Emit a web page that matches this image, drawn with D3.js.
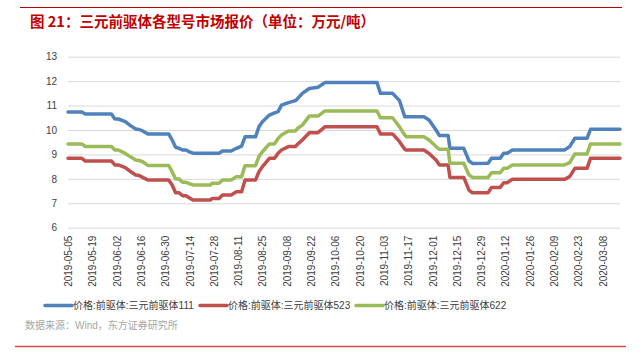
<!DOCTYPE html>
<html><head><meta charset="utf-8">
<script src="https://cdn.jsdelivr.net/npm/d3@7"></script>
<style>
html,body{margin:0;padding:0;background:#fff;}
svg{display:block;font-family:"Liberation Sans","Noto Sans CJK SC",sans-serif;}
</style></head>
<body><svg id="c" width="642" height="354"></svg>
<script>
const title = "图 21：三元前驱体各型号市场报价（单位：万元/吨）";
const source = "数据来源：Wind，东方证券研究所";
const seriesNames = ["价格:前驱体:三元前驱体111","价格:前驱体:三元前驱体523","价格:前驱体:三元前驱体622"];
const seriesColors = ["#4f81bd","#c0504d","#9bbb59"];
const yTicks = [6,7,8,9,10,11,12,13];
const xTickLabels = ["2019-05-05","2019-05-19","2019-06-02","2019-06-16","2019-06-30","2019-07-14","2019-07-28","2019-08-11","2019-08-25","2019-09-08","2019-09-22","2019-10-06","2019-10-20","2019-11-03","2019-11-17","2019-12-01","2019-12-15","2019-12-29","2020-01-12","2020-01-26","2020-02-09","2020-02-23","2020-03-08"];
const dates = ["2019-05-05","2019-05-13","2019-05-15","2019-05-30","2019-06-01","2019-06-03","2019-06-07","2019-06-10","2019-06-13","2019-06-15","2019-06-17","2019-06-20","2019-07-02","2019-07-04","2019-07-06","2019-07-08","2019-07-10","2019-07-12","2019-07-14","2019-07-16","2019-07-26","2019-07-27","2019-07-31","2019-08-02","2019-08-07","2019-08-10","2019-08-13","2019-08-15","2019-08-21","2019-08-23","2019-08-25","2019-08-29","2019-09-01","2019-09-03","2019-09-05","2019-09-09","2019-09-13","2019-09-14","2019-09-17","2019-09-21","2019-09-26","2019-09-30","2019-10-30","2019-11-01","2019-11-08","2019-11-12","2019-11-15","2019-11-16","2019-11-26","2019-11-29","2019-12-03","2019-12-05","2019-12-10","2019-12-11","2019-12-19","2019-12-22","2019-12-24","2020-01-02","2020-01-04","2020-01-09","2020-01-11","2020-01-13","2020-01-16","2020-02-15","2020-02-18","2020-02-21","2020-02-28","2020-03-01","2020-03-18"];
const s111 = [10.74,10.74,10.65,10.65,10.45,10.45,10.34,10.18,10.04,10.02,9.96,9.84,9.84,9.59,9.29,9.25,9.18,9.18,9.10,9.05,9.05,9.05,9.05,9.14,9.14,9.25,9.34,9.72,9.72,10.13,10.34,10.61,10.70,10.75,11.02,11.12,11.20,11.26,11.50,11.70,11.75,11.94,11.94,11.50,11.50,11.20,10.54,10.54,10.54,10.41,10.00,9.77,9.77,9.25,9.25,8.74,8.63,8.64,8.84,8.84,9.05,9.05,9.18,9.18,9.32,9.66,9.66,10.03,10.03];
const s523 = [8.84,8.84,8.73,8.73,8.57,8.57,8.46,8.30,8.16,8.14,8.06,7.95,7.95,7.75,7.43,7.43,7.31,7.31,7.22,7.13,7.13,7.20,7.20,7.34,7.34,7.47,7.47,7.95,7.95,8.29,8.50,8.84,8.84,9.05,9.18,9.32,9.32,9.40,9.59,9.89,9.89,10.13,10.13,9.84,9.84,9.52,9.21,9.18,9.18,9.04,8.77,8.57,8.57,8.06,8.06,7.54,7.43,7.43,7.65,7.65,7.84,7.84,7.98,7.98,8.09,8.43,8.43,8.84,8.84];
const s622 = [9.43,9.43,9.32,9.32,9.18,9.18,9.04,8.90,8.77,8.75,8.70,8.55,8.55,8.29,7.99,7.99,7.86,7.86,7.80,7.75,7.75,7.82,7.82,7.95,7.95,8.09,8.09,8.54,8.54,8.91,9.11,9.43,9.43,9.65,9.79,9.96,9.96,10.05,10.20,10.57,10.57,10.78,10.78,10.50,10.50,10.13,9.79,9.72,9.72,9.59,9.32,9.21,9.21,8.64,8.64,8.16,8.06,8.06,8.25,8.25,8.43,8.43,8.57,8.57,8.66,9.02,9.02,9.43,9.43];
const xStart = "2019-05-05", xEnd = "2020-03-18";

const parse = d3.timeParse("%Y-%m-%d");
const fmt = d3.timeFormat("%Y-%m-%d");
const svg = d3.select("#c");
const L = 68, R = 620, T = 56.7, B = 227.7;
const x = d3.scaleTime().domain([parse(xStart), parse(xEnd)]).range([L, R]);
const y = d3.scaleLinear().domain([6, 13]).range([B, T]);

// top & bottom rules
svg.append("line").attr("x1",20).attr("x2",622).attr("y1",7.5).attr("y2",7.5).attr("stroke","#c00000").attr("stroke-width",1);
svg.append("line").attr("x1",15).attr("x2",626).attr("y1",346.5).attr("y2",346.5).attr("stroke","#e04848").attr("stroke-width",1.5);

svg.append("text").attr("x",30).attr("y",27).attr("fill","#c00000").attr("font-size",14.5).attr("font-weight","bold")
  .attr("font-family","'Noto Sans CJK SC',sans-serif").text(title);

// y axis with gridlines
const gy = svg.append("g").attr("transform",`translate(${L},0)`)
  .call(d3.axisLeft(y).tickValues(yTicks).tickSize(-(R-L)).tickPadding(11).tickFormat(d3.format("d")));
gy.select(".domain").remove();
gy.selectAll(".tick line").attr("stroke","#d9d9d9").attr("stroke-width",1);
gy.selectAll(".tick text").attr("fill","#404040").attr("font-size",10);

// x axis
const gx = svg.append("g").attr("transform",`translate(0,${B})`)
  .call(d3.axisBottom(x).tickValues(xTickLabels.map(parse)).tickSize(0).tickFormat(fmt));
gx.select(".domain").remove();
gx.selectAll(".tick text").attr("fill","#404040").attr("font-size",10)
  .attr("text-anchor","end").attr("transform","rotate(-90)").attr("x",-8).attr("y",0).attr("dy","0.35em");

// lines
const allSeries = [s111, s523, s622];
const line = d3.line().x((d,i)=>x(parse(dates[i]))).y(d=>y(d));
allSeries.forEach((s,k)=>{
  svg.append("path").datum(s).attr("d",line).attr("fill","none")
    .attr("stroke",seriesColors[k]).attr("stroke-width",3.5).attr("stroke-linejoin","round").attr("stroke-linecap","round");
});

// legend
const legX = [45, 200, 356];
seriesNames.forEach((n,k)=>{
  const g = svg.append("g").attr("transform",`translate(${legX[k]},305.5)`);
  g.append("line").attr("x1",0).attr("x2",27).attr("y1",0).attr("y2",0).attr("stroke",seriesColors[k]).attr("stroke-width",3.5).attr("stroke-linecap","round");
  g.append("text").attr("x",28).attr("y",0).attr("dy","0.35em").attr("font-size",10).attr("fill","#404040").text(n);
});

svg.append("text").attr("x",25).attr("y",329).attr("font-size",10).attr("fill","#a6a6a6").text(source);
</script></body></html>
